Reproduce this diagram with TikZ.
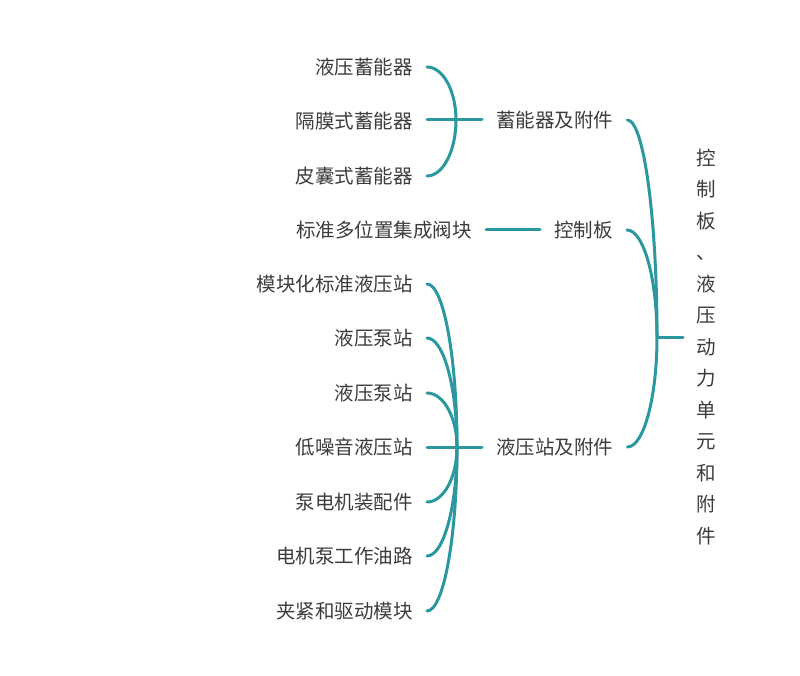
\documentclass[tikz,border=0pt]{standalone}
\usepackage{fontspec}
\setmainfont{Noto Sans CJK SC}
\usetikzlibrary{calc}
\definecolor{linec}{HTML}{2B979F}
\definecolor{txt}{HTML}{3C3C3C}
\begin{document}
\begin{tikzpicture}[x=1pt,y=-1pt,
  lbl/.style={text=txt, font=\fontsize{19.5}{23}\selectfont, inner xsep=14pt, inner ysep=0pt},
  conn/.style={draw=linec, line width=3pt, line cap=round},
  curl/.style={to path={.. controls ($(\tikztostart|-\tikztotarget)!0.45!(\tikztostart)$) and ($(\tikztostart|-\tikztotarget)!0.45!(\tikztotarget)$) .. (\tikztotarget)}}]
\useasboundingbox (0,0) rectangle (800,676);

% root
\node[text=txt, align=center, inner xsep=13pt, inner ysep=0pt, font=\fontsize{19.5}{31.5}\selectfont] (root) at (706,347)
  {控\\制\\板\\、\\液\\压\\动\\力\\单\\元\\和\\附\\件};
\coordinate (rj) at (657,337);

% level 1
\node[lbl, anchor=west] (a1) at (482,120) {蓄能器及附件};
\node[lbl, anchor=east] (a2) at (627,230) {控制板};
\node[lbl, anchor=west] (a3) at (482,447) {液压站及附件};
\coordinate (j1) at (456,120);
\coordinate (j3) at (457,447);

% level 2
\node[lbl, anchor=east] (b1) at (427,67) {液压蓄能器};
\node[lbl, anchor=east] (b2) at (427,121) {隔膜式蓄能器};
\node[lbl, anchor=east] (b3) at (427,176) {皮囊式蓄能器};
\node[lbl, anchor=east] (c1) at (486,230) {标准多位置集成阀块};
\node[lbl, anchor=east] (d1) at (427,284) {模块化标准液压站};
\node[lbl, anchor=east] (d2) at (427,338) {液压泵站};
\node[lbl, anchor=east] (d3) at (427,393) {液压泵站};
\node[lbl, anchor=east] (d4) at (427,447) {低噪音液压站};
\node[lbl, anchor=east] (d5) at (427,502) {泵电机装配件};
\node[lbl, anchor=east] (d6) at (427,556) {电机泵工作油路};
\node[lbl, anchor=east] (d7) at (427,611) {夹紧和驱动模块};

% connectors
\draw[conn] (rj) -- (root.west|-rj);
\draw[conn] (rj) to[curl] (a1.east);
\draw[conn] (rj) to[curl] (a2.east);
\draw[conn] (rj) to[curl] (a3.east);

\draw[conn] (j1) -- (a1.west);
\draw[conn] (j1) to[curl] (b1.east);
\draw[conn] (j1) -- (b2.east|-j1);
\draw[conn] (j1) to[curl] (b3.east);

\draw[conn] (c1.east) -- (a2.west);

\draw[conn] (j3) -- (a3.west);
\draw[conn] (j3) to[curl] (d1.east);
\draw[conn] (j3) to[curl] (d2.east);
\draw[conn] (j3) to[curl] (d3.east);
\draw[conn] (j3) -- (d4.east);
\draw[conn] (j3) to[curl] (d5.east);
\draw[conn] (j3) to[curl] (d6.east);
\draw[conn] (j3) to[curl] (d7.east);
\end{tikzpicture}
\end{document}
